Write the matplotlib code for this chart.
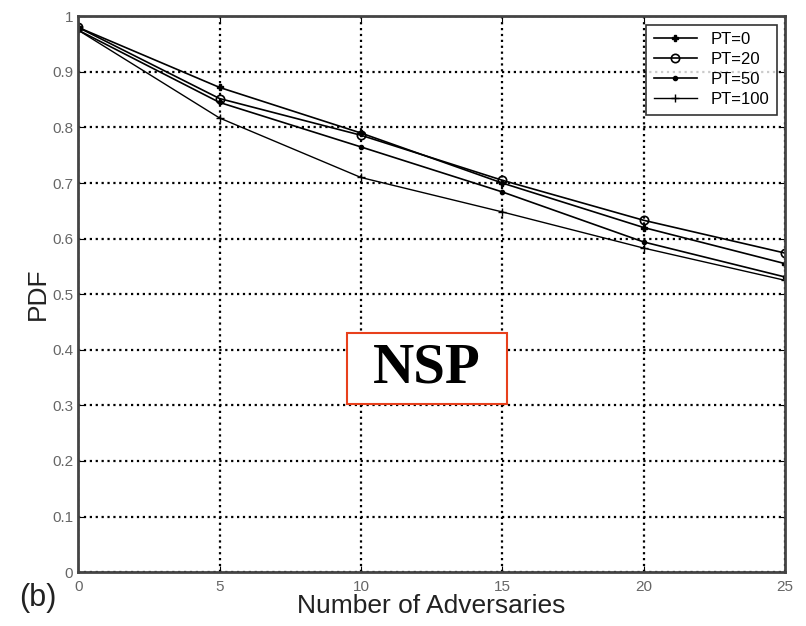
import matplotlib.pyplot as plt
from matplotlib.patches import Rectangle

# Data
adversaries = [0, 5, 10, 15, 20, 25]
pdf_pt0 = [0.980, 0.872, 0.790, 0.700, 0.620, 0.555]
pdf_pt20 = [0.980, 0.852, 0.786, 0.705, 0.633, 0.574]
pdf_pt50 = [0.975, 0.845, 0.765, 0.684, 0.594, 0.531]
pdf_pt100 = [0.975, 0.817, 0.710, 0.648, 0.583, 0.525]
x_ticks = [0, 5, 10, 15, 20, 25]
y_ticks = [0, 0.1, 0.2, 0.3, 0.4, 0.5, 0.6, 0.7, 0.8, 0.9, 1]
y_ticklabels = ['0', '0.1', '0.2', '0.3', '0.4', '0.5', '0.6', '0.7', '0.8', '0.9', '1']

plt.rcParams['font.family'] = ['Liberation Sans', 'DejaVu Sans']

fig = plt.figure(figsize=(8.06, 6.26), dpi=100)
ax = fig.add_axes([0.097, 0.086, 0.877, 0.888])

ax.plot(adversaries, pdf_pt0, '-', color='black', lw=1.2, marker='P', ms=5, label='PT=0')
ax.plot(adversaries, pdf_pt20, '-', color='black', lw=1.2, marker='o', ms=6,
        mfc='none', mew=1.2, label='PT=20')
ax.plot(adversaries, pdf_pt50, '-', color='black', lw=1.2, marker='.', ms=6, label='PT=50')
ax.plot(adversaries, pdf_pt100, '-', color='black', lw=1.0, marker='+', ms=6, label='PT=100')

ax.set_xlim(0, 25)
ax.set_ylim(0, 1)
ax.set_xticks(x_ticks)
ax.set_yticks(y_ticks)
ax.set_yticklabels(y_ticklabels)
ax.tick_params(labelsize=11, labelcolor='#666666', direction='in', length=4,
               color='black', top=True, right=True)
ax.tick_params(axis='x', pad=6)
ax.grid(True, linestyle=':', color='black', linewidth=1.6)

for spine in ax.spines.values():
    spine.set_linewidth(2)
    spine.set_color('#444444')

ax.set_xlabel('Number of Adversaries', fontsize=19, color='#222222', labelpad=0)
ax.set_ylabel('PDF', fontsize=19, color='#222222', labelpad=2)

leg = ax.legend(loc='upper right', fontsize=12, frameon=True, fancybox=False,
                edgecolor='black', handlelength=2.6, borderpad=0.45,
                labelspacing=0.3, borderaxespad=0.5)
leg.get_frame().set_linewidth(1.2)

fig.text(0.047, 0.032, '(b)', fontsize=22, color='#222222', ha='center')

# NSP label box
fig.patches.append(Rectangle((0.4305, 0.3546), 0.1985, 0.1134, transform=fig.transFigure,
                             facecolor='white', edgecolor='#e8401c', linewidth=1.5, zorder=5))
fig.text(0.5298, 0.411, 'NSP', fontsize=41, fontweight='bold', family='Liberation Serif',
         ha='center', va='center', zorder=6)

fig.savefig('out.png', dpi=100)
plt.close(fig)
